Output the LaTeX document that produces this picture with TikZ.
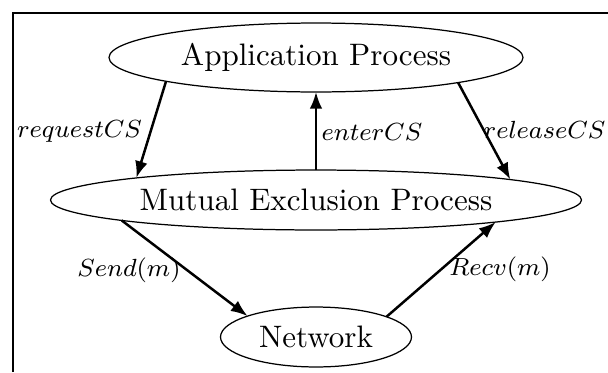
\documentclass[tikz,border=0pt]{standalone}
\usepackage{amsmath}
\usepackage{tikz}
\usetikzlibrary{arrows.meta, shapes.geometric}

\tikzset{
  proc/.style={draw, ellipse, inner sep=0pt, outer sep=0pt},
  flow/.style={-{Latex[length=5.4pt,width=4.1pt]}, line width=0.8pt},
  lbl/.style={font=\footnotesize, inner sep=0pt}
}

\begin{document}
\begin{tikzpicture}[x=0.322pt, y=-0.322pt]
  \useasboundingbox (0,0) rectangle (608,372);
  % Frame
  \draw[line width=0.6pt] (13.4,372) |- (608,13);

  % Processes
  \node[proc, minimum width=133.3pt, minimum height=22.2pt] (app) at (316,57.5) {Application Process};
  \node[proc, minimum width=171pt, minimum height=19.3pt] (mutex) at (316,200) {Mutual Exclusion Process};
  \node[proc, minimum width=61.5pt, minimum height=19.3pt] (net) at (316,337) {Network};

  % Arrows
  \draw[flow] (app.189.3) -- (mutex.173.5);
  \draw[flow] (mutex.north) -- (app.south);
  \draw[flow] (app.350.7) -- (mutex.6.5);
  \draw[flow] (mutex.186.5) -- (net.163.7);
  \draw[flow] (net.16.3) -- (mutex.353.5);

  % Labels
  \node[lbl] (reqlbl) at (79.5,131) {$requestCS$};
  \node[lbl] (entlbl) at (372,132) {$enterCS$};
  \node[lbl] (rellbl) at (544.6,130) {$releaseCS$};
  \node[lbl] (sendlbl) at (129,270) {$Send(m)$};
  \node[lbl] (recvlbl) at (500,269.3) {$Recv(m)$};
\end{tikzpicture}
\end{document}
